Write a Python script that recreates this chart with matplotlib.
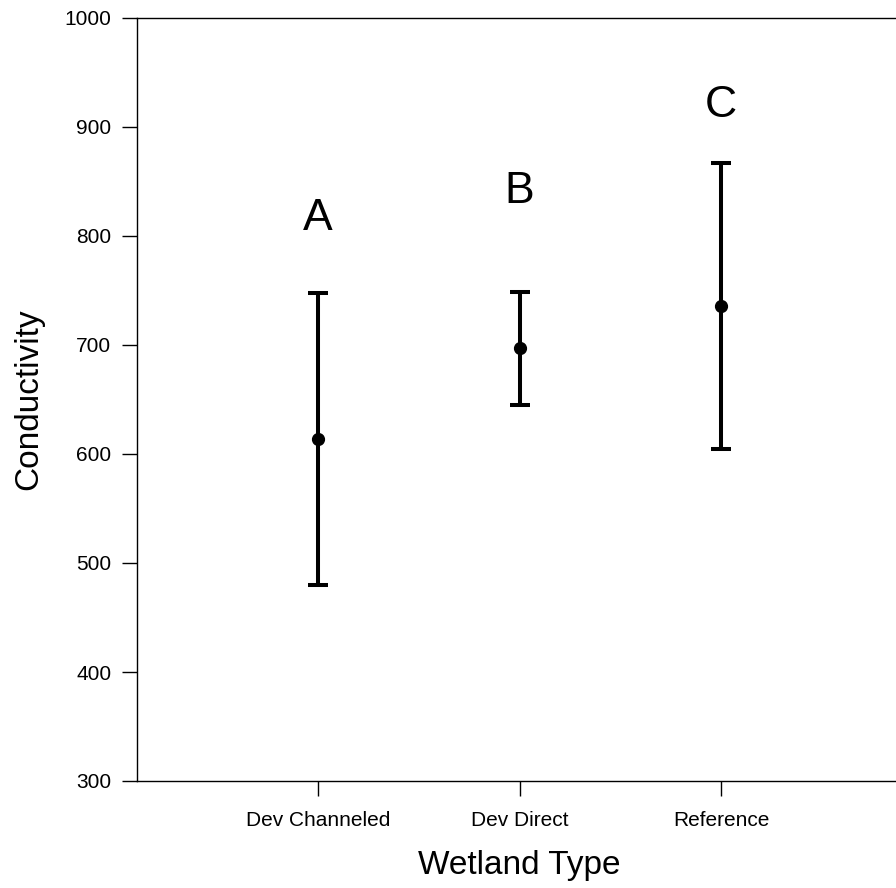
import matplotlib
matplotlib.use("Agg")
import matplotlib.pyplot as plt

plt.rcParams['font.family'] = ['Liberation Sans', 'DejaVu Sans']

# Data
wetland_types = ['Dev Channeled', 'Dev Direct', 'Reference']
means = [614, 697, 736]
errors = [134, 52, 131]
letters = ['A', 'B', 'C']
letter_y = [816, 841, 920]
y_ticks = [300, 400, 500, 600, 700, 800, 900, 1000]

fig = plt.figure(figsize=(8.96, 8.88), dpi=100)
ax = fig.add_axes([137 / 896, 107 / 888, 759 / 896, 763 / 888])

x = list(range(1, len(wetland_types) + 1))
ax.errorbar(x, means, yerr=errors, fmt='o', color='black', ecolor='black',
            elinewidth=2.9, capsize=7, capthick=2.9, markersize=8.5)

for xi, lab, ly in zip(x, letters, letter_y):
    ax.text(xi, ly, lab, ha='center', va='center', fontsize=32)

ax.set_xlim(0.1017, 3.868)
ax.set_ylim(300, 1000)
ax.set_yticks(y_ticks)
ax.set_xticks(x)
ax.set_xticklabels(wetland_types)

ax.spines['right'].set_visible(False)
for s in ['left', 'top', 'bottom']:
    ax.spines[s].set_linewidth(1.0)

ax.tick_params(axis='both', direction='out', length=10.5, width=1.0,
               labelsize=15)
ax.tick_params(axis='x', pad=11)
ax.tick_params(axis='y', pad=8)

ax.set_xlabel('Wetland Type', fontsize=24, va='center')
ax.set_ylabel('Conductivity', fontsize=24, va='center')
ax.xaxis.set_label_coords(0.503, -0.111)
ax.yaxis.set_label_coords(-0.142, 0.5)

fig.savefig('out.png', dpi=100)
